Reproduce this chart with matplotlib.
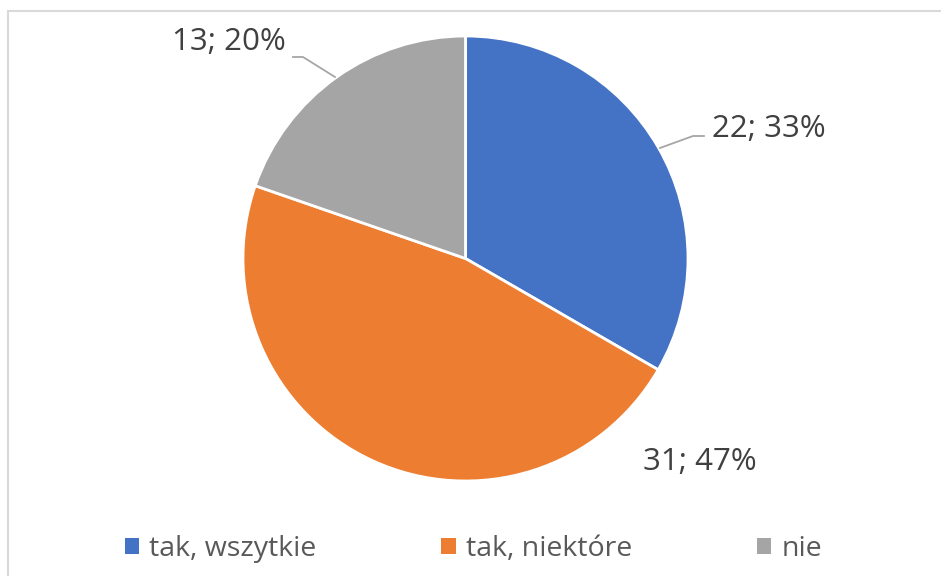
import matplotlib.pyplot as plt
from matplotlib.patches import Rectangle
from matplotlib.lines import Line2D

categories = ["tak, wszytkie", "tak, niektóre", "nie"]
values = [22, 31, 13]
colors = ["#4472C4", "#ED7D31", "#A5A5A5"]

plt.rcParams['font.family'] = ['Open Sans', 'DejaVu Sans']

W, H = 941, 576
fig = plt.figure(figsize=(W / 100, H / 100), dpi=100)

# light frame (only top and left visible in the crop)
fig.patches.append(Rectangle((8 / W, -0.1), 1.2, 1 - 11 / H + 0.1,
                             transform=fig.transFigure, fill=False,
                             edgecolor="#D9D9D9", linewidth=1.5))

cx, cy, r = 465.5, 258.5, 222.5
ax = fig.add_axes([(cx - r) / W, (H - cy - r) / H, 2 * r / W, 2 * r / H])
wedges, _ = ax.pie(values, colors=colors, startangle=90, counterclock=False,
                   radius=1, wedgeprops=dict(edgecolor="white", linewidth=2))
ax.set_xlim(-1, 1)
ax.set_ylim(-1, 1)
ax.set_aspect("equal")
ax.axis("off")

total = sum(values)
labels = [f"{v}; {round(100 * v / total)}%" for v in values]


def to_data(px, py):
    return (px - cx) / r, (cy - py) / r


txt = dict(fontsize=22.5, color="#404040", ha="center", va="center")
# label positions (pixel layout)
label_pos = [(769, 129), (700, 462), (229, 42)]
for lab, (px, py) in zip(labels, label_pos):
    x, y = to_data(px, py)
    ax.text(x, y, lab, clip_on=False, **txt)

# leader lines
leaders = [[(660, 148), (693, 136), (704, 136)],
           [(293, 57), (303, 57), (335, 77)]]
for pts in leaders:
    xs, ys = zip(*[to_data(*p) for p in pts])
    ax.add_line(Line2D(xs, ys, color="#A6A6A6", linewidth=1.3, clip_on=False))

handles = [Rectangle((0, 0), 1, 1, facecolor=c) for c in colors]
fig.legend(handles, categories, loc="center", bbox_to_anchor=(0.503, 1 - 549 / H),
           ncol=3, frameon=False, fontsize=20.5, labelcolor="#595959",
           handlelength=0.5, handleheight=0.5, handletextpad=0.35,
           columnspacing=4.4)

fig.savefig("out.png", dpi=100)
